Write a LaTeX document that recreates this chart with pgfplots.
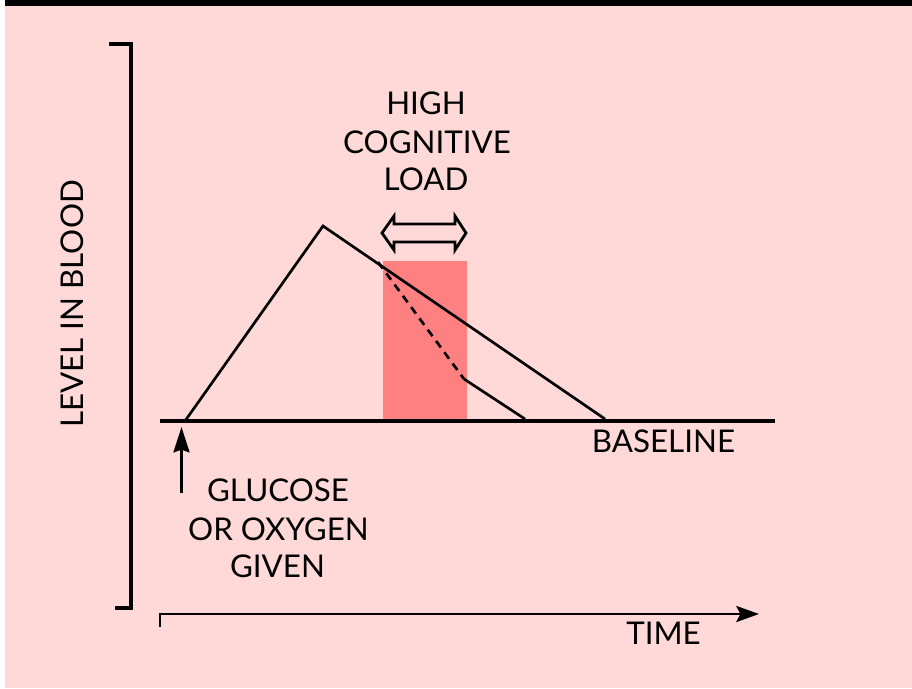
\documentclass[border=0pt]{standalone}
\usepackage{pgfplots}
\pgfplotsset{compat=1.18}
\usepackage{fontspec}
\setmainfont{Lato}
\usetikzlibrary{arrows.meta}
\definecolor{bgpink}{RGB}{255,216,216}
\definecolor{loadred}{RGB}{255,128,128}
\begin{document}
\begin{tikzpicture}
\begin{axis}[
  hide axis, scale only axis,
  width=684pt, height=516pt,
  xmin=0, xmax=912, ymin=0, ymax=688,
  y dir=reverse, clip=false,
]
% background and top bar
\addplot[fill=bgpink, draw=none] coordinates {(5,0) (912,0) (912,688) (5,688)} -- cycle;
\addplot[fill=black, draw=none] coordinates {(5,0) (912,0) (912,6) (5,6)} -- cycle;
% high cognitive load band
\addplot[fill=loadred, draw=none] coordinates {(383,261) (467,261) (467,420) (383,420)} -- cycle;
% baseline
\addplot[black, line width=2.6pt] coordinates {(160,421) (775,421)};
% level curve
\addplot[black, line width=2pt, line join=miter] coordinates {(185,421) (323,226) (605,419)};
\addplot[black, line width=2pt, dash pattern=on 6pt off 4.5pt] coordinates {(378,262) (464,379)};
\addplot[black, line width=2pt] coordinates {(464,379) (525,419)};
% double arrow
\addplot[black, line width=2.1pt, line join=miter] coordinates {(382,233) (394,216) (394,224) (455,224) (455,216) (466,233) (455,250) (455,242) (394,242) (394,250)} -- cycle;
% bracket (y axis)
\addplot[black, line width=2.8pt, line join=miter] coordinates {(109,44) (131,44) (131,608) (115,608)};
% time axis
\addplot[black, line width=2.2pt, line join=miter, -{Stealth[length=17pt, width=12pt, inset=3pt]}] coordinates {(160,627) (160,614) (759,614)};
% up arrow
\addplot[black, line width=2.1pt, -{Stealth[length=19pt, width=12pt, inset=2pt]}] coordinates {(181.5,493) (181.5,427)};
% texts
\begin{scope}[every node/.style={font=\fontsize{23.5}{28}\selectfont, inner sep=0pt, anchor=base}]
\node at (axis cs:426,115) {HIGH};
\node at (axis cs:427,153) {COGNITIVE};
\node at (axis cs:426,190) {LOAD};
\node at (axis cs:278,501) {GLUCOSE};
\node at (axis cs:278.5,540) {OR OXYGEN};
\node at (axis cs:277.5,577) {GIVEN};
\node at (axis cs:663.5,452) {BASELINE};
\node at (axis cs:663.5,644) {TIME};
\node[rotate=90] at (axis cs:83,304) {LEVEL IN BLOOD};
\end{scope}
\end{axis}
\pgfresetboundingbox
\path[use as bounding box] (current axis.south west) rectangle (current axis.north east);
\end{tikzpicture}
\end{document}
